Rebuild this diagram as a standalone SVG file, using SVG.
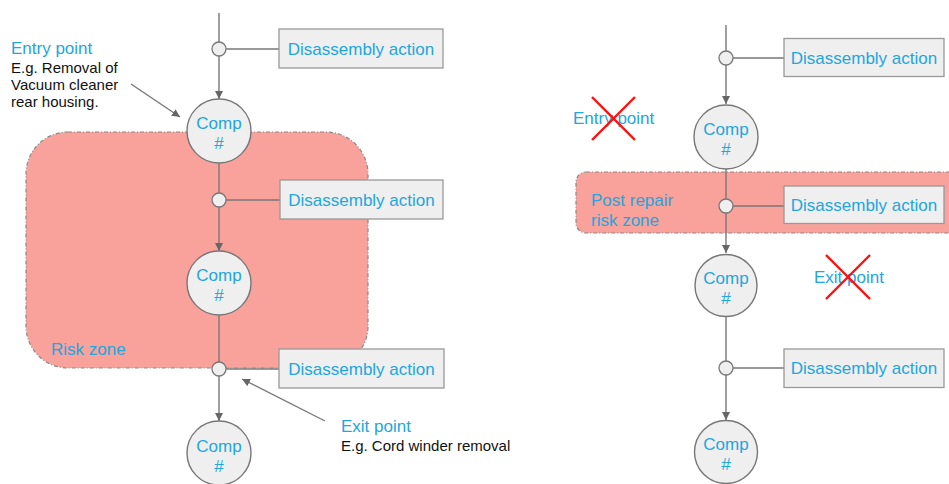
<svg xmlns="http://www.w3.org/2000/svg" width="949" height="484" viewBox="0 0 949 484">
<style>
.zone{fill:#f9a19b;stroke:#888;stroke-width:1.2;stroke-dasharray:4 2 1 2}
.comp{fill:#efefef;stroke:#777;stroke-width:1.4}
.dot{fill:#efefef;stroke:#777;stroke-width:1.3}
.box{fill:#efefef;stroke:#999;stroke-width:1.3}
.ln{stroke:#777;stroke-width:1.4;fill:none}
.blue{fill:#22a6de;font-family:"Liberation Sans",Arial,sans-serif;font-size:17px}
.blk{fill:#111;font-family:"Liberation Sans",Arial,sans-serif;font-size:15px}
.x{stroke:#ff1010;stroke-width:2.4}
</style>
<defs>
<marker id="ah" viewBox="0 0 10 10" refX="10" refY="5" markerWidth="8" markerHeight="8" markerUnits="userSpaceOnUse" orient="auto">
<path d="M0,0 L10,5 L0,10 z" fill="#666"/>
</marker>
</defs>

<g id="risk-zone-left"><rect class="zone" x="26" y="132" width="342" height="236" rx="42" ry="42"/><text class="blue" x="51" y="355">Risk zone</text></g>
<g id="risk-zone-right"><rect class="zone" x="576" y="172" width="390" height="61" rx="10" ry="10"/><text class="blue" x="591" y="206">Post repair</text><text class="blue" x="591" y="226">risk zone</text></g>

<g id="connectors">
<line class="ln" x1="219" y1="13" x2="219" y2="42"/>
<line class="ln" x1="219" y1="56" x2="219" y2="99" marker-end="url(#ah)"/>
<line class="ln" x1="226" y1="49" x2="279" y2="49"/>
<line class="ln" x1="219" y1="163" x2="219" y2="193"/>
<line class="ln" x1="219" y1="207" x2="219" y2="251" marker-end="url(#ah)"/>
<line class="ln" x1="226" y1="200" x2="280" y2="200"/>
<line class="ln" x1="219" y1="315" x2="219" y2="362"/>
<line class="ln" x1="219" y1="376" x2="219" y2="421" marker-end="url(#ah)"/>
<line class="ln" x1="226" y1="369" x2="279" y2="369"/>
<line class="ln" x1="131" y1="84" x2="180" y2="117" marker-end="url(#ah)"/>
<line class="ln" x1="325" y1="421" x2="242" y2="379" marker-end="url(#ah)"/>

<line class="ln" x1="726" y1="25" x2="726" y2="51"/>
<line class="ln" x1="726" y1="65" x2="726" y2="104" marker-end="url(#ah)"/>
<line class="ln" x1="733" y1="58" x2="784" y2="58"/>
<line class="ln" x1="726" y1="169" x2="726" y2="199"/>
<line class="ln" x1="726" y1="213" x2="726" y2="253" marker-end="url(#ah)"/>
<line class="ln" x1="733" y1="206" x2="784" y2="206"/>
<line class="ln" x1="726" y1="317" x2="726" y2="361"/>
<line class="ln" x1="726" y1="375" x2="726" y2="420" marker-end="url(#ah)"/>
<line class="ln" x1="733" y1="368" x2="784" y2="368"/>
</g>

<g id="dot-l1"><circle class="dot" cx="219" cy="49" r="7"/></g>
<g id="dot-l2"><circle class="dot" cx="219" cy="200" r="7"/></g>
<g id="dot-l3"><circle class="dot" cx="219" cy="369" r="7"/></g>
<g id="dot-r1"><circle class="dot" cx="726" cy="58" r="7"/></g>
<g id="dot-r2"><circle class="dot" cx="726" cy="206" r="7"/></g>
<g id="dot-r3"><circle class="dot" cx="726" cy="368" r="7"/></g>

<g id="action-l1"><rect class="box" x="279" y="29" width="164" height="39"/><text class="blue" x="361" y="55" text-anchor="middle">Disassembly action</text></g>
<g id="action-l2"><rect class="box" x="280" y="180" width="163" height="39"/><text class="blue" x="361.5" y="206" text-anchor="middle">Disassembly action</text></g>
<g id="action-l3"><rect class="box" x="279" y="349" width="165" height="39"/><text class="blue" x="361.5" y="375" text-anchor="middle">Disassembly action</text></g>
<g id="action-r1"><rect class="box" x="784" y="38.5" width="160" height="38"/><text class="blue" x="864" y="64" text-anchor="middle">Disassembly action</text></g>
<g id="action-r2"><rect class="box" x="784" y="186" width="160" height="37.5"/><text class="blue" x="864" y="211" text-anchor="middle">Disassembly action</text></g>
<g id="action-r3"><rect class="box" x="784" y="349" width="160" height="38.5"/><text class="blue" x="864" y="374" text-anchor="middle">Disassembly action</text></g>

<g id="comp-l1"><circle class="comp" cx="219" cy="131" r="32"/><text class="blue" x="219" y="129" text-anchor="middle">Comp</text><text class="blue" x="219" y="149" text-anchor="middle">#</text></g>
<g id="comp-l2"><circle class="comp" cx="219" cy="283" r="32"/><text class="blue" x="219" y="281" text-anchor="middle">Comp</text><text class="blue" x="219" y="301" text-anchor="middle">#</text></g>
<g id="comp-l3"><circle class="comp" cx="219" cy="453" r="32"/><text class="blue" x="219" y="452" text-anchor="middle">Comp</text><text class="blue" x="219" y="472" text-anchor="middle">#</text></g>
<g id="comp-r1"><circle class="comp" cx="726" cy="137" r="32"/><text class="blue" x="726" y="135" text-anchor="middle">Comp</text><text class="blue" x="726" y="155" text-anchor="middle">#</text></g>
<g id="comp-r2"><circle class="comp" cx="726" cy="285.5" r="31"/><text class="blue" x="726" y="284" text-anchor="middle">Comp</text><text class="blue" x="726" y="304" text-anchor="middle">#</text></g>
<g id="comp-r3"><circle class="comp" cx="726" cy="452" r="31.5"/><text class="blue" x="726" y="450" text-anchor="middle">Comp</text><text class="blue" x="726" y="470" text-anchor="middle">#</text></g>

<g id="entry-note"><text class="blue" x="11" y="54">Entry point</text><text class="blk" x="11" y="72.5">E.g. Removal of</text><text class="blk" x="11" y="90">Vacuum cleaner</text><text class="blk" x="11" y="107">rear housing.</text></g>
<g id="exit-note"><text class="blue" x="341" y="432">Exit point</text><text class="blk" x="341" y="450.5">E.g. Cord winder removal</text></g>

<g id="entry-crossed"><text class="blue" x="573" y="124">Entry point</text><line class="x" x1="592" y1="97" x2="635" y2="140"/><line class="x" x1="635" y1="97" x2="592" y2="140"/></g>
<g id="exit-crossed"><text class="blue" x="814" y="283">Exit point</text><line class="x" x1="826" y1="255" x2="870" y2="299"/><line class="x" x1="870" y1="255" x2="826" y2="299"/></g>
</svg>
